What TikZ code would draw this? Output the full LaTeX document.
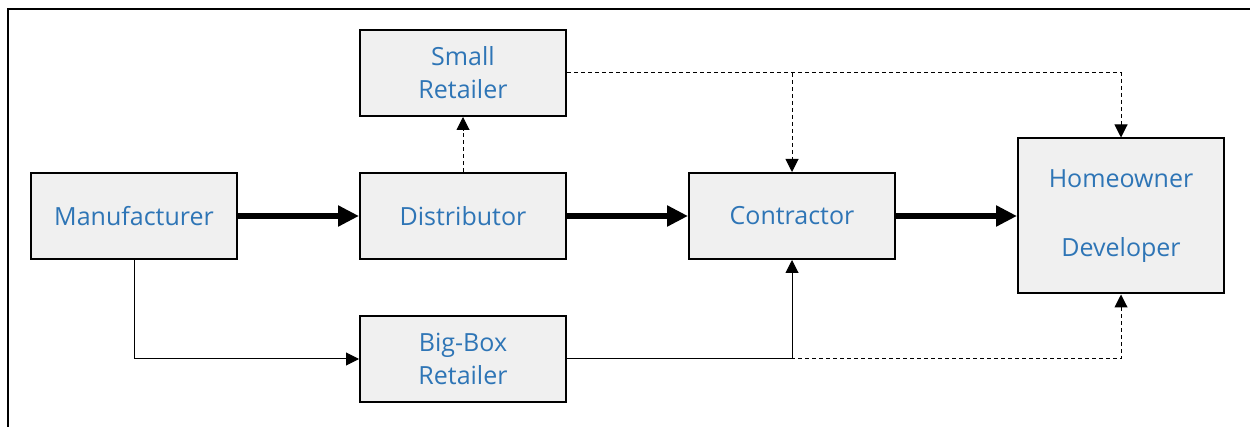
\documentclass[tikz,border=0pt]{standalone}
\usepackage{fontspec}
\setmainfont{Open Sans}
\usetikzlibrary{positioning,arrows.meta}
\definecolor{boxblue}{HTML}{2E75B6}
\definecolor{boxgray}{HTML}{F0F0F0}

\begin{document}
\begin{tikzpicture}
  [x=1pt,y=1pt,
    box/.style={draw,line width=2pt,fill=boxgray,text=boxblue,
    minimum width=206pt,minimum height=86pt,align=center,
    font=\fontsize{25}{33}\selectfont},
    main/.style={line width=6.5pt,-{Triangle[length=21pt,width=20pt]}},
    side/.style={line width=1pt,-{Triangle[length=13pt,width=13pt]}},
    maybe/.style={side,dash pattern=on 4pt off 3pt},
    node distance=55pt and 121pt]
  \useasboundingbox (0,0) rectangle (1250,-427);
  \draw[line width=2pt] (8,-427) -- (8,-9) -- (1250,-9);

  % main chain
  \node[box] (manu) at (134,-216) {Manufacturer};
  \node[box,right=of manu] (dist) {Distributor};
  \node[box,right=of dist] (contr) {Contractor};
  \node[box,right=of contr,minimum height=155pt] (home)
    {Homeowner\\[36pt]Developer};
  % retail side
  \node[box,above=of dist] (small) {Small\\Retailer};
  \node[box,below=of dist] (bigbox) {Big-Box\\Retailer};

  \draw[main] (manu) -- (dist);
  \draw[main] (dist) -- (contr);
  \draw[main] (contr) -- (home);

  \draw[maybe] (dist) -- (small);
  \draw[maybe] (small.east) -| (home.north);
  \coordinate (split) at (contr.north |- small.east);
  \draw[maybe] (split) -- (contr.north);

  \draw[maybe] (bigbox.east) -| (home.south);
  \draw[side] (manu.south) |- (bigbox.west);
  \draw[side] (bigbox.east) -| (contr.south);
\end{tikzpicture}
\end{document}
